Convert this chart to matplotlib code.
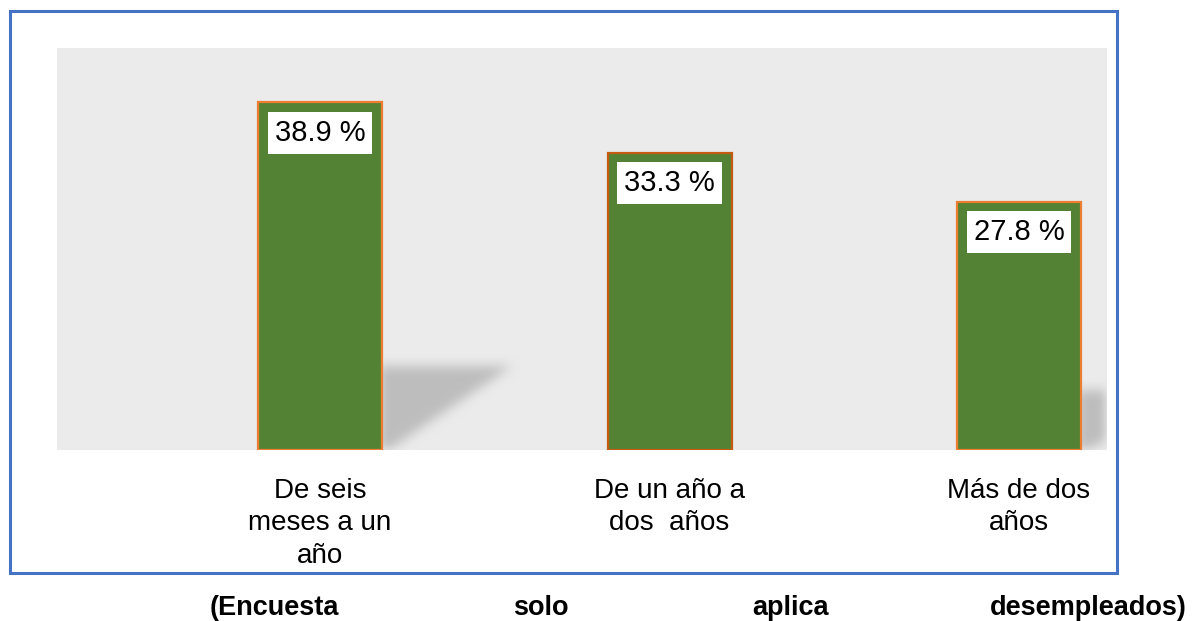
import matplotlib
matplotlib.use('Agg')
import matplotlib.pyplot as plt
import numpy as np
from matplotlib.patches import Rectangle

plt.rcParams['font.family'] = ['Liberation Sans', 'DejaVu Sans']

# data
categories = ['De seis\nmeses a un\naño', 'De un año a\ndos  años', 'Más de dos\naños']
values = [38.9, 33.3, 27.8]
labels = ['38.9 %', '33.3 %', '27.8 %']
edge_colors = ['#ED7D31', '#C55A11', '#ED7D31']
has_shadow = [True, False, True]
note_words = ['(Encuesta', 'solo', 'aplica', 'desempleados)']

W, H = 1196, 621
fig = plt.figure(figsize=(W / 100, H / 100), dpi=100)

# blue frame around the chart
fig.patches.append(Rectangle((10 / W, 1 - 573 / H), 1107 / W, 562 / H,
                             transform=fig.transFigure, fill=False,
                             edgecolor='#4472C4', linewidth=2.2))

ax = fig.add_axes([57 / W, 1 - 450 / H, 1050 / W, 402 / H])
ax.set_facecolor('#EBEBEB')
xlim = (-0.753, 2.252)
ylim = (0, 45)
ax.set_xlim(*xlim)
ax.set_ylim(*ylim)

x = np.arange(len(values))
bw = 0.355

# soft perspective shadows behind bars
nx, ny = 1050, 402
gx = np.linspace(xlim[0], xlim[1], nx)
gy = np.linspace(ylim[0], ylim[1], ny)
XX, YY = np.meshgrid(gx, gy)
mask = np.zeros_like(XX)
for xi, v, s in zip(x, values, has_shadow):
    if not s:
        continue
    right = xi + bw / 2
    hs = 0.24 * v
    reach = right + 0.02 + 0.35 * (YY / hs)
    inside = (YY <= hs) & (XX >= right - 0.01) & (XX <= reach)
    mask[inside] = 1.0
k = np.ones(13) / 13
for _ in range(2):
    mask = np.apply_along_axis(lambda r: np.convolve(r, k, mode='same'), 1, mask)
    mask = np.apply_along_axis(lambda c: np.convolve(c, k, mode='same'), 0, mask)
bg, sh = 0.922, 0.745
img = bg - (bg - sh) * mask
ax.imshow(np.dstack([img] * 3), extent=(*xlim, *ylim), origin='lower',
          aspect='auto', zorder=1, interpolation='bilinear')

ax.bar(x, values, width=bw, color='#548235', edgecolor=edge_colors,
       linewidth=1.6, zorder=2)

for xi, v, lab in zip(x, values, labels):
    ax.annotate(lab, xy=(xi, v), xytext=(0, -22), textcoords='offset points',
                ha='center', va='center', fontsize=21, zorder=3,
                bbox=dict(boxstyle='square,pad=0.24', facecolor='white',
                          edgecolor='none'))

ax.set_xticks(x)
ax.set_xticklabels(categories, fontsize=20, linespacing=1.32)
ax.tick_params(axis='x', length=0, pad=20)
ax.set_yticks([])
for sp in ax.spines.values():
    sp.set_visible(False)

# justified note below the frame
for word, px in zip(note_words, [210, 513, 752, 990]):
    fig.text(px / W, 1 - 608 / H, word, fontsize=19.5, fontweight='bold',
             ha='left', va='center')

fig.savefig('out.png', dpi=100)
